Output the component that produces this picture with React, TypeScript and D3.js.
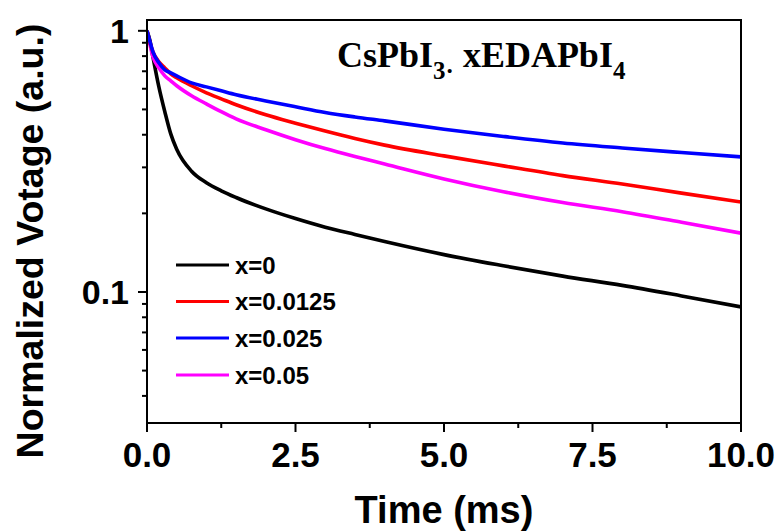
import React from "react";
import * as d3 from "d3";

const times = [0, 0.05, 0.1, 0.2, 0.3, 0.4, 0.5, 0.75, 1.0, 1.25, 1.5, 2.0, 2.5, 3.0, 3.5, 4.0, 5.0, 6.0, 7.0, 8.0, 9.0, 10.0];
const seriesLabels = ["x=0", "x=0.0125", "x=0.025", "x=0.05"];
const seriesColors = ["#000000", "#ff0000", "#0000ff", "#ff00ff"];
const black = [1, 0.916, 0.795, 0.61, 0.49, 0.403, 0.352, 0.29, 0.262, 0.244, 0.23, 0.208, 0.191, 0.177, 0.166, 0.156, 0.139, 0.126, 0.115, 0.106, 0.0966, 0.0877];
const red = [1, 0.9, 0.831, 0.761, 0.721, 0.684, 0.661, 0.616, 0.579, 0.549, 0.521, 0.477, 0.443, 0.413, 0.387, 0.365, 0.332, 0.304, 0.279, 0.259, 0.239, 0.221];
const blue = [1, 0.908, 0.831, 0.754, 0.709, 0.69, 0.672, 0.632, 0.61, 0.589, 0.569, 0.539, 0.512, 0.487, 0.468, 0.452, 0.42, 0.394, 0.372, 0.356, 0.342, 0.329];
const magenta = [1, 0.884, 0.795, 0.721, 0.672, 0.643, 0.616, 0.564, 0.525, 0.49, 0.46, 0.418, 0.383, 0.354, 0.33, 0.309, 0.271, 0.242, 0.22, 0.203, 0.185, 0.168];
const xMajor = [0, 2.5, 5, 7.5, 10];
const xMinor = [1.25, 3.75, 6.25, 8.75];
const yMajor = [1, 0.1];
const yMinor = [0.04, 0.05, 0.06, 0.07, 0.08, 0.09, 0.2, 0.3, 0.4, 0.5, 0.6, 0.7, 0.8, 0.9];

const W = 781, H = 532;
const L = 147, R = 741, T = 20, B = 423;

export default function App() {
  const x = d3.scaleLinear().domain([0, 10]).range([L, R]);
  const y = d3.scaleLog().domain([0.0315, 1.1]).range([B, T]);
  const all = [black, red, blue, magenta];
  const drawOrder = [0, 3, 1, 2];
  const line = d3.line<number>().x((_, i) => x(times[i])).y((d) => y(d)).curve(d3.curveMonotoneX);
  const font = "'Liberation Sans', Arial, sans-serif";
  const legendY = [265, 301.5, 338, 375];
  return (
    <svg width={W} height={H} style={{ position: "absolute", left: 0, top: 0, background: "#fff" }}>
      <defs>
        <clipPath id="plot"><rect x={L} y={T} width={R - L} height={B - T} /></clipPath>
      </defs>
      <rect x={0} y={0} width={W} height={H} fill="#fff" />
      <g clipPath="url(#plot)">
        {drawOrder.map((k) => (
          <path key={k} d={line(all[k]) || ""} fill="none" stroke={seriesColors[k]} strokeWidth={3.6} strokeLinejoin="round" />
        ))}
      </g>
      <rect x={L} y={T} width={R - L} height={B - T} fill="none" stroke="#000" strokeWidth={2} />
      {xMajor.map((v) => (
        <g key={"xm" + v}>
          <line x1={x(v)} x2={x(v)} y1={B} y2={B + 9} stroke="#000" strokeWidth={2} />
          <text x={x(v)} y={467} textAnchor="middle" fontFamily={font} fontWeight="bold" fontSize={35}>{v.toFixed(1)}</text>
        </g>
      ))}
      {xMinor.map((v) => (
        <line key={"xn" + v} x1={x(v)} x2={x(v)} y1={B} y2={B + 5} stroke="#000" strokeWidth={2} />
      ))}
      {yMajor.map((v) => (
        <g key={"ym" + v}>
          <line x1={L - 9} x2={L} y1={y(v)} y2={y(v)} stroke="#000" strokeWidth={2} />
          <text x={129} y={y(v)} dy="0.36em" textAnchor="end" fontFamily={font} fontWeight="bold" fontSize={34}>{String(v)}</text>
        </g>
      ))}
      {yMinor.map((v) => (
        <line key={"yn" + v} x1={L - 5} x2={L} y1={y(v)} y2={y(v)} stroke="#000" strokeWidth={2} />
      ))}
      <text x={(L + R) / 2} y={523} textAnchor="middle" fontFamily={font} fontWeight="bold" fontSize={38}>Time (ms)</text>
      <text transform={`translate(43, ${241}) rotate(-90)`} textAnchor="middle" fontFamily={font} fontWeight="bold" fontSize={37.5}>Normalized Votage (a.u.)</text>
      <text x={337} y={67} fontFamily="'Liberation Serif', 'Times New Roman', serif" fontWeight="bold" fontSize={36}>
        CsPbI<tspan fontSize={25} dy={12}>3·</tspan><tspan dy={-12}> xEDAPbI</tspan><tspan fontSize={25} dy={12}>4</tspan>
      </text>
      {seriesLabels.map((s, i) => (
        <g key={s}>
          <line x1={176} x2={229} y1={legendY[i]} y2={legendY[i]} stroke={seriesColors[i]} strokeWidth={3} />
          <text x={235} y={legendY[i]} dy="0.36em" fontFamily={font} fontWeight="bold" fontSize={24}>{s}</text>
        </g>
      ))}
    </svg>
  );
}
